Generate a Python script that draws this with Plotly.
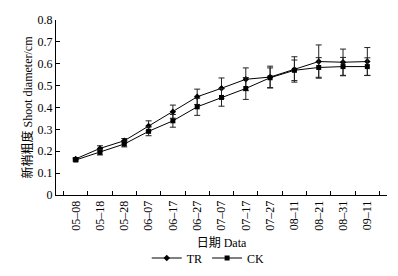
import plotly.graph_objects as go

dates = ["05–08", "05–18", "05–28", "06–07", "06–17", "06–27", "07–07",
         "07–17", "07–27", "08–11", "08–21", "08–31", "09–11"]
tr_values = [0.165, 0.213, 0.248, 0.316, 0.381, 0.449, 0.488, 0.529, 0.539, 0.574, 0.610, 0.607, 0.610]
tr_err = [0.006, 0.012, 0.010, 0.023, 0.030, 0.035, 0.047, 0.052, 0.050, 0.058, 0.076, 0.060, 0.064]
ck_values = [0.160, 0.195, 0.233, 0.291, 0.339, 0.403, 0.446, 0.487, 0.536, 0.570, 0.583, 0.587, 0.587]
ck_err = [0.006, 0.012, 0.013, 0.020, 0.029, 0.039, 0.040, 0.050, 0.045, 0.047, 0.045, 0.042, 0.040]
y_ticks = [0, 0.1, 0.2, 0.3, 0.4, 0.5, 0.6, 0.7, 0.8]
y_tick_text = ["0", "0.1", "0.2", "0.3", "0.4", "0.5", "0.6", "0.7", "0.8"]

serif = "Liberation Serif, Noto Sans CJK SC, serif"

fig = go.Figure()
fig.add_trace(go.Scatter(
    x=dates, y=tr_values, name="TR", mode="lines+markers",
    line=dict(color="black", width=1),
    marker=dict(symbol="diamond", size=5, color="black"),
    error_y=dict(type="data", array=tr_err, color="#222", thickness=1, width=3),
))
fig.add_trace(go.Scatter(
    x=dates, y=ck_values, name="CK", mode="lines+markers",
    line=dict(color="black", width=1),
    marker=dict(symbol="square", size=5, color="black"),
    error_y=dict(type="data", array=ck_err, color="#222", thickness=1, width=3),
))

fig.update_layout(
    width=398, height=276,
    margin=dict(l=48, r=19, t=12, b=79),
    paper_bgcolor="white", plot_bgcolor="white",
    font=dict(family=serif, size=12, color="black"),
    showlegend=True,
    legend=dict(orientation="h", x=0.46, xanchor="center", y=-0.36, yanchor="middle",
                font=dict(family=serif, size=12), itemwidth=30,
                bgcolor="rgba(0,0,0,0)", tracegroupgap=0),
    xaxis=dict(
        type="category", tickson="boundaries", ticks="inside", ticklen=4,
        tickcolor="black", showline=True, linecolor="black", linewidth=1,
        tickangle=-90, showgrid=False, zeroline=False, automargin=False,
        tickfont=dict(family=serif, size=12),
        title=dict(text="日期 Data", font=dict(family=serif, size=12), standoff=8),
    ),
    yaxis=dict(
        range=[0, 0.8], tickvals=y_ticks, ticktext=y_tick_text,
        ticks="inside", ticklen=4, tickcolor="black",
        showline=True, linecolor="black", linewidth=1,
        showgrid=False, zeroline=False, automargin=False,
        tickfont=dict(family=serif, size=12),
        title=dict(text="新梢粗度 Shoot diameter/cm", font=dict(family=serif, size=12), standoff=2),
    ),
)

fig.write_html("out.html")
